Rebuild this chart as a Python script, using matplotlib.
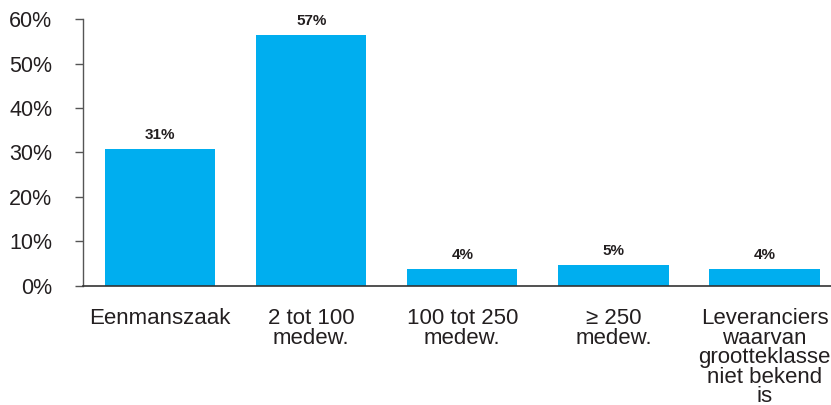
import matplotlib

matplotlib.use("Agg")
import matplotlib.pyplot as plt

plt.rcParams.update({
    "font.family": ["Liberation Sans", "DejaVu Sans"],
})

categories = [
    "Eenmanszaak",
    "2 tot 100\nmedew.",
    "100 tot 250\nmedew.",
    "\u2265 250\nmedew.",
    "Leveranciers\nwaarvan\ngrootteklasse\nniet bekend\nis",
]
shares = [30.8, 56.4, 3.8, 4.7, 3.8]
share_labels = ["31%", "57%", "4%", "5%", "4%"]
yticks = [0, 10, 20, 30, 40, 50, 60]

TEXT = "#231f20"
BAR = "#00aeef"

fig = plt.figure(figsize=(8.31, 4.05), dpi=100)
ax = fig.add_axes([0.0999, 0.294, 0.9001, 0.659])

x = list(range(len(categories)))
ax.bar(x, shares, width=0.73, color=BAR, zorder=2)
for xi, v, lab in zip(x, shares, share_labels):
    ax.text(xi, v + 1.5, lab, ha="center", va="bottom", fontsize=11,
            fontweight="bold", color=TEXT)

ax.set_xlim(-0.51, 4.44)
ax.set_ylim(0, 60)
ax.set_yticks(yticks)
ax.set_yticklabels([f"{t}%" for t in yticks], fontsize=15.5, color=TEXT)
ax.set_xticks(x)
ax.set_xticklabels(categories, fontsize=16, color=TEXT, linespacing=0.91)
ax.tick_params(axis="x", length=0, pad=16)
ax.tick_params(axis="y", length=6, width=1, color="#555555", pad=16)
for side in ("top", "right"):
    ax.spines[side].set_visible(False)
ax.spines["left"].set_color("#555555")
ax.spines["bottom"].set_color("#333333")
ax.spines["left"].set_linewidth(1)
ax.spines["bottom"].set_linewidth(1.2)

fig.savefig("out.png", dpi=100)
